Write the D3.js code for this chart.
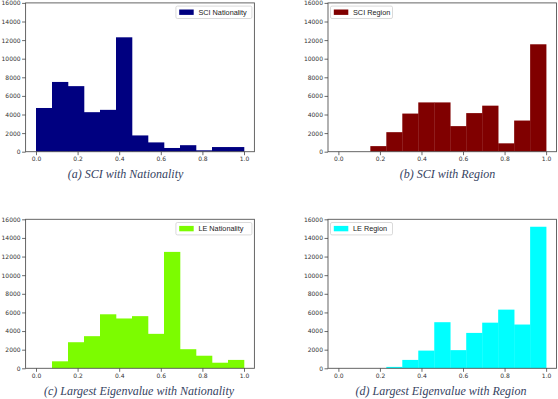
<!DOCTYPE html>
<html>
<head>
<meta charset="utf-8">
<script src="https://cdn.jsdelivr.net/npm/d3@7"></script>
<style>
html,body{margin:0;padding:0;background:#fff;}
svg{display:block;}
</style>
</head>
<body>
<svg id="chart" width="558" height="399"></svg>
<script>
// ---- data ----
const binCount = 13;
const xTicks = [0.0, 0.2, 0.4, 0.6, 0.8, 1.0];
const yTicks = [0, 2000, 4000, 6000, 8000, 10000, 12000, 14000, 16000];

const sciNationality = [4700, 7500, 7050, 4250, 4500, 12300, 1750, 1000, 400, 700, 150, 500, 500];
const sciRegion      = [0, 0, 600, 2100, 4100, 5300, 5300, 2750, 4150, 4950, 900, 3350, 11550];
const leNationality  = [0, 750, 2800, 3450, 5800, 5350, 5600, 3700, 12500, 2050, 1350, 600, 900];
const leRegion       = [0, 0, 0, 150, 900, 1900, 4950, 1950, 3800, 4900, 6300, 4700, 15200];

const seriesNames = ["SCI Nationality", "SCI Region", "LE Nationality", "LE Region"];
const captions = ["(a) SCI with Nationality", "(b) SCI with Region",
                  "(c) Largest Eigenvalue with Nationality", "(d) Largest Eigenvalue with Region"];

// ---- layout ----
const panels = [
  {vals: sciNationality, name: seriesNames[0], cap: captions[0], color: "#000080",
   x0: 25.6, x1: 254.4, yTop: 2.9, yBot: 151.7, legend: "right", capX: 125.5, capY: 177.5},
  {vals: sciRegion, name: seriesNames[1], cap: captions[1], color: "#800000",
   x0: 328, x1: 556.5, yTop: 2.9, yBot: 151.7, legend: "left", capX: 447.5, capY: 177.5},
  {vals: leNationality, name: seriesNames[2], cap: captions[2], color: "#7CFC00",
   x0: 25.6, x1: 254.4, yTop: 219.3, yBot: 368.3, legend: "right", capX: 139, capY: 394.5},
  {vals: leRegion, name: seriesNames[3], cap: captions[3], color: "#00FFFF",
   x0: 328, x1: 556.5, yTop: 219.3, yBot: 368.3, legend: "left", capX: 441, capY: 394.5}
];

const svg = d3.select("#chart");

panels.forEach(p => {
  const x = d3.scaleLinear().domain([-0.05, 1.05]).range([p.x0, p.x1]);
  const y = d3.scaleLinear().domain([0, 16000]).range([p.yBot, p.yTop]);
  const g = svg.append("g");

  const bins = p.vals.map((v, i) => ({x0: i / binCount, x1: (i + 1) / binCount, v}));

  g.selectAll("rect.bar").data(bins).enter().append("rect")
    .attr("class", "bar")
    .attr("x", d => x(d.x0))
    .attr("width", d => x(d.x1) - x(d.x0) + 0.3)
    .attr("y", d => y(d.v))
    .attr("height", d => y(0) - y(d.v))
    .attr("fill", p.color);

  // frame
  g.append("rect")
    .attr("x", p.x0).attr("y", p.yTop)
    .attr("width", p.x1 - p.x0).attr("height", p.yBot - p.yTop)
    .attr("fill", "none").attr("stroke", "#555").attr("stroke-width", 0.9);

  // axes
  const xAxis = d3.axisBottom(x).tickValues(xTicks).tickFormat(d3.format(".1f"))
    .tickSize(3.5).tickPadding(2);
  const yAxis = d3.axisLeft(y).tickValues(yTicks).tickFormat(d3.format("d"))
    .tickSize(3.5).tickPadding(1.5);

  const gx = g.append("g").attr("transform", `translate(0,${p.yBot})`).call(xAxis);
  const gy = g.append("g").attr("transform", `translate(${p.x0},0)`).call(yAxis);
  [gx, gy].forEach(a => {
    a.select(".domain").remove();
    a.selectAll(".tick line").attr("stroke", "#444").attr("stroke-width", 0.8);
    a.selectAll(".tick text").attr("fill", "#333")
      .style("font-family", "DejaVu Sans, sans-serif").style("font-size", "6px");
  });

  // legend
  const lw = p.legend === "right" ? 76 : 62;
  const lx = p.legend === "right" ? p.x1 - 2.5 - lw : p.x0 + 2.5;
  const ly = p.yTop + 3.2;
  const lg = g.append("g").attr("transform", `translate(${lx},${ly})`);
  lg.append("rect").attr("width", lw).attr("height", 12.4).attr("rx", 1.5)
    .attr("fill", "#fff").attr("stroke", "#d0d0d0").attr("stroke-width", 0.8);
  lg.append("rect").attr("x", 3.3).attr("y", 3.4).attr("width", 14.5).attr("height", 5.4)
    .attr("fill", p.color);
  lg.append("text").attr("x", 22.5).attr("y", 8.9)
    .attr("fill", "#222")
    .style("font-family", "Liberation Sans, Arial, sans-serif").style("font-size", "7.3px")
    .text(p.name);

  // caption
  g.append("text")
    .attr("x", p.capX).attr("y", p.capY)
    .attr("text-anchor", "middle")
    .attr("fill", "#36435f")
    .style("font-family", "Liberation Serif, Times New Roman, serif")
    .style("font-style", "italic").style("font-size", "12px")
    .text(p.cap);
});
</script>
</body>
</html>
